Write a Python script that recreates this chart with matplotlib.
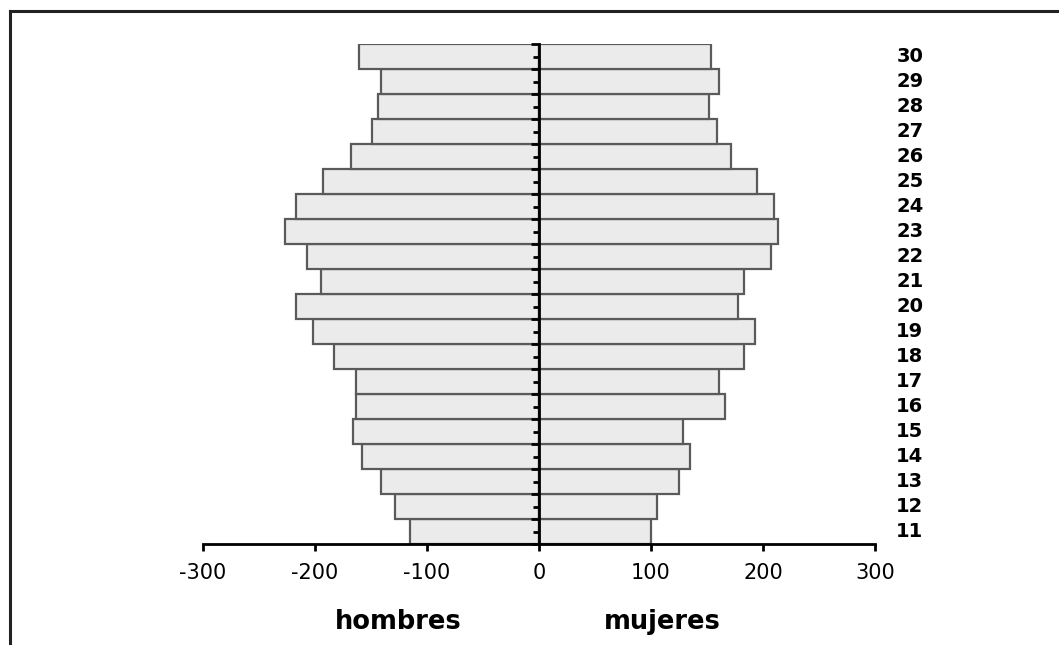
import matplotlib
matplotlib.use('Agg')
import matplotlib.pyplot as plt
import numpy as np

ages = list(range(11, 31))
hombres = [115, 129, 141, 158, 166, 163, 163, 183, 202, 217,
           195, 207, 227, 217, 193, 168, 149, 144, 141, 161]
mujeres = [100, 105, 125, 135, 129, 166, 161, 183, 193, 178,
           183, 207, 213, 210, 195, 171, 159, 152, 161, 154]
xticks = [-300, -200, -100, 0, 100, 200, 300]

fig = plt.figure(figsize=(10.59, 6.45), dpi=100)
ax = fig.add_axes([203 / 1059, 101 / 645, 672 / 1059, 500 / 645])

bar_style = dict(height=1.0, color='#ebebeb', edgecolor='#5a5a5a', linewidth=1.6)
ax.barh(ages, [-v for v in hombres], **bar_style)
ax.barh(ages, mujeres, **bar_style)

ax.set_xlim(-300, 300)
ax.set_ylim(ages[0] - 0.5, ages[-1] + 0.5)

# spines: only bottom axis plus a centre axis at zero
for s in ['top', 'right']:
    ax.spines[s].set_visible(False)
ax.spines['left'].set_position(('data', 0))
ax.spines['left'].set_linewidth(2)
ax.spines['left'].set_zorder(5)
ax.spines['bottom'].set_linewidth(2)

ax.set_xticks(xticks)
ax.set_xticklabels([str(t) for t in xticks], fontsize=15, family='DejaVu Sans')
ax.tick_params(axis='x', length=5, width=2, pad=9)

ax.set_yticks(np.arange(ages[0] - 0.5, ages[-1] + 1, 1.0))
ax.set_yticks(ages, minor=True)
ax.set_yticklabels([])
ax.tick_params(axis='y', which='major', length=6, width=2, direction='out')
ax.tick_params(axis='y', which='minor', length=4, width=2, direction='out')

# age labels on the right
for a in ages:
    ax.text(319, a, str(a), fontsize=14, fontweight='bold', family='DejaVu Sans',
            ha='left', va='center', clip_on=False)

# sex labels under the axis
fig.text(398 / 1059, 1 - 629 / 645, 'hombres', fontsize=18.5, fontweight='bold',
         family='DejaVu Sans', ha='center', va='baseline')
fig.text(662 / 1059, 1 - 629 / 645, 'mujeres', fontsize=18.5, fontweight='bold',
         family='DejaVu Sans', ha='center', va='baseline')

# outer frame (top and left edges)
fig.add_artist(plt.Line2D([10 / 1059, 1.0], [1 - 11 / 645, 1 - 11 / 645],
                          color='#222222', linewidth=2.2, transform=fig.transFigure))
fig.add_artist(plt.Line2D([10 / 1059, 10 / 1059], [0.0, 1 - 11 / 645],
                          color='#222222', linewidth=2.2, transform=fig.transFigure))

fig.savefig('out.png', dpi=100, facecolor='white')
